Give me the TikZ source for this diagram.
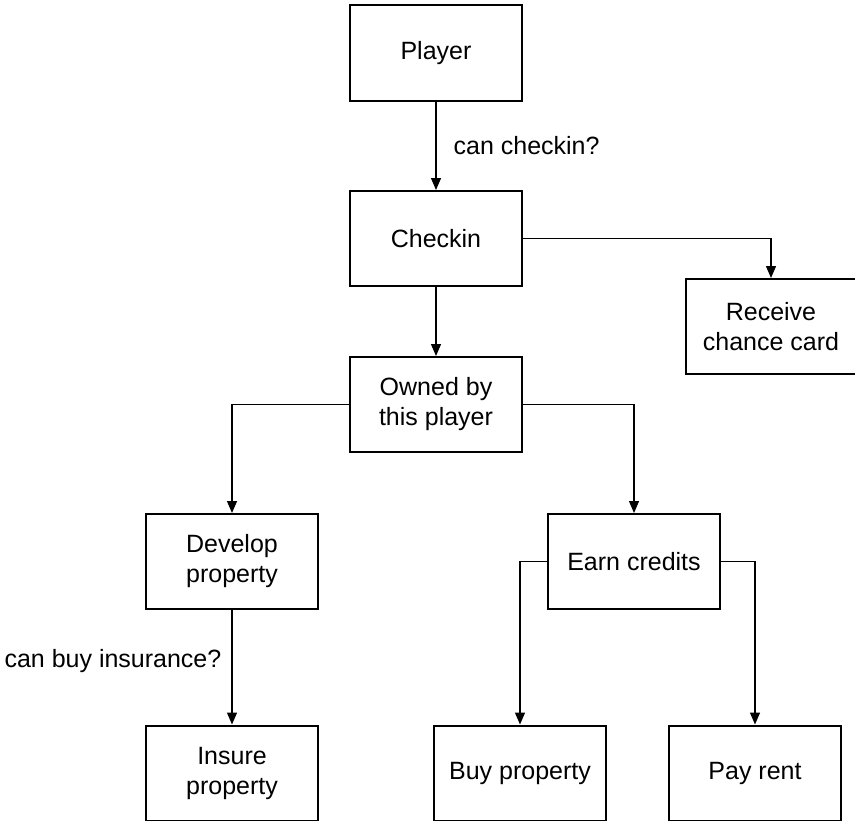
\documentclass[tikz,border=0pt]{standalone}
\usepackage{fontspec}
\setmainfont{Liberation Sans}
\usetikzlibrary{arrows.meta}
\begin{document}
\begin{tikzpicture}[x=1bp,y=-1bp,
  box/.style={draw, line width=2bp, rectangle, minimum width=172bp, minimum height=95bp, inner sep=0pt, align=center, font=\fontsize{25bp}{30bp}\selectfont},
  conn/.style={line width=1.3bp, -{Triangle[length=12bp,width=10bp]}},
  lbl/.style={font=\fontsize{25bp}{30bp}\selectfont, inner sep=0pt}]
\useasboundingbox (0,0) rectangle (855,821);
\node[box] (player) at (436,53) {Player};
\node[box] (checkin) at (436,238.5) {Checkin};
\node[box, minimum width=170bp] (receive) at (771,326.5) {Receive\\chance card};
\node[box] (owned) at (436,404.5) {Owned by\\this player};
\node[box] (develop) at (232,561.5) {Develop\\property};
\node[box] (earn) at (634,561.5) {Earn credits};
\node[box] (insure) at (232,773) {Insure\\property};
\node[box] (buy) at (520,773) {Buy property};
\node[box] (pay) at (755,773) {Pay rent};
\draw[conn] (player) -- node[lbl, anchor=west, xshift=17bp, pos=0.5] (l1) {can checkin?} (checkin);
\draw[conn] (checkin.east) -| (receive.north);
\draw[conn] (checkin) -- (owned);
\draw[conn] (owned.west) -| (develop.north);
\draw[conn] (owned.east) -| (earn.north);
\draw[conn] (develop) -- node[lbl, anchor=east, xshift=-10bp, pos=0.45] (l2) {can buy insurance?} (insure);
\draw[conn] (earn.west) -| (buy.north);
\draw[conn] (earn.east) -| (pay.north);
\end{tikzpicture}
\end{document}
